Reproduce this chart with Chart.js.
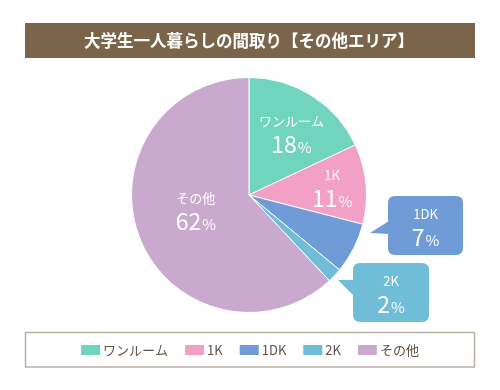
<!DOCTYPE html>
<html>
<head>
<meta charset="utf-8">
<script src="https://cdn.jsdelivr.net/npm/chart.js@4/dist/chart.umd.min.js"></script>
<style>
  html, body { margin: 0; padding: 0; background: #fff; }
  #wrap { width: 500px; height: 390px; position: relative; }
</style>
</head>
<body>
<div id="wrap"><canvas id="roomChart" width="500" height="390"></canvas></div>
<script>
// data
const titleText = "大学生一人暮らしの間取り【その他エリア】";
const categories = ["ワンルーム", "1K", "1DK", "2K", "その他"];
const shares = [18, 11, 7, 2, 62];
const sliceColors = ["#70d4bf", "#f2a0c6", "#6f9bd7", "#6fbdd7", "#c9a9cd"];

const FONT = "'Noto Sans CJK JP', 'Noto Sans', sans-serif";

// label placement inside slices (radius factor, angle nudge in degrees)
const inside = { 0: [0.64, 2], 1: [0.71, 0], 4: [0.47, 6] };
// callout boxes for the thin slices, offsets from the pie centre
const callouts = {
    2: { x: 139, y: 1, w: 75, h: 59, tip: [121, 38], a: [140, 26], b: [140, 39] },
    3: { x: 104, y: 68, w: 76, h: 59, tip: [89, 85], a: [105, 85], b: [105, 101] }
};

function drawValue(ctx, name, value, cx, cy) {
    ctx.fillStyle = "#fff";
    ctx.textAlign = "center";
    ctx.textBaseline = "middle";
    ctx.font = "13px " + FONT;
    ctx.fillText(name, cx, cy - 12);
    ctx.font = "23px " + FONT;
    const num = String(value);
    const nw = ctx.measureText(num).width;
    ctx.font = "15px " + FONT;
    const pw = ctx.measureText("%").width;
    const start = cx - (nw + pw + 1) / 2;
    ctx.textAlign = "left";
    ctx.font = "23px " + FONT;
    ctx.fillText(num, start, cy + 11);
    ctx.font = "15px " + FONT;
    ctx.fillText("%", start + nw + 1, cy + 14);
}

function roundRect(ctx, x, y, w, h, r) {
    ctx.beginPath();
    ctx.moveTo(x + r, y);
    ctx.lineTo(x + w - r, y);
    ctx.quadraticCurveTo(x + w, y, x + w, y + r);
    ctx.lineTo(x + w, y + h - r);
    ctx.quadraticCurveTo(x + w, y + h, x + w - r, y + h);
    ctx.lineTo(x + r, y + h);
    ctx.quadraticCurveTo(x, y + h, x, y + h - r);
    ctx.lineTo(x, y + r);
    ctx.quadraticCurveTo(x, y, x + r, y);
    ctx.closePath();
}

const decorPlugin = {
    id: "decor",
    beforeDraw(chart) {
        const ctx = chart.ctx;
        ctx.save();
        // title bar
        ctx.fillStyle = "#7b654a";
        ctx.fillRect(25, 23, 450, 35);
        ctx.fillStyle = "#fff";
        ctx.font = "bold 16.5px " + FONT;
        ctx.textAlign = "center";
        ctx.textBaseline = "middle";
        ctx.fillText(titleText, 249, 41);

        // legend frame
        ctx.strokeStyle = "#b9b1a6";
        ctx.lineWidth = 1.5;
        ctx.strokeRect(25.5, 332.5, 449, 34.5);

        // legend items
        ctx.font = "13px " + FONT;
        const box = 19, gapText = 3, gapItem = 17;
        const widths = categories.map(c => box + gapText + ctx.measureText(c).width);
        const total = widths.reduce((s, w) => s + w, 0) + gapItem * (categories.length - 1);
        let x = 250 - total / 2;
        ctx.textAlign = "left";
        categories.forEach((c, i) => {
            ctx.fillStyle = sliceColors[i];
            ctx.fillRect(x, 345, box, 10);
            ctx.fillStyle = "#5d5249";
            ctx.fillText(c, x + box + gapText, 350.5);
            x += widths[i] + gapItem;
        });
        ctx.restore();
    },
    afterDatasetsDraw(chart) {
        const ctx = chart.ctx;
        const arcs = chart.getDatasetMeta(0).data;
        ctx.save();
        arcs.forEach((arc, i) => {
            const cx = arc.x, cy = arc.y;
            if (inside[i]) {
                const [f, nudge] = inside[i];
                const mid = (arc.startAngle + arc.endAngle) / 2 + nudge * Math.PI / 180;
                const r = arc.outerRadius * f;
                drawValue(ctx, categories[i], shares[i], cx + Math.cos(mid) * r, cy + Math.sin(mid) * r);
            } else if (callouts[i]) {
                const c = callouts[i];
                ctx.fillStyle = sliceColors[i];
                roundRect(ctx, cx + c.x, cy + c.y, c.w, c.h, 7);
                ctx.fill();
                ctx.beginPath();
                ctx.moveTo(cx + c.tip[0], cy + c.tip[1]);
                ctx.lineTo(cx + c.a[0], cy + c.a[1]);
                ctx.lineTo(cx + c.b[0], cy + c.b[1]);
                ctx.closePath();
                ctx.fill();
                drawValue(ctx, categories[i], shares[i], cx + c.x + c.w / 2, cy + c.y + c.h / 2 + 1);
            }
        });
        ctx.restore();
    }
};

new Chart(document.getElementById("roomChart"), {
    type: "pie",
    data: {
        labels: categories,
        datasets: [{
            data: shares,
            backgroundColor: sliceColors,
            borderColor: "#ffffff",
            borderWidth: 1
        }]
    },
    options: {
        responsive: false,
        animation: false,
        layout: { padding: { top: 77, bottom: 77, left: 0, right: 2 } },
        plugins: {
            legend: { display: false },
            title: { display: false },
            tooltip: { enabled: false }
        }
    },
    plugins: [decorPlugin]
});
</script>
</body>
</html>
